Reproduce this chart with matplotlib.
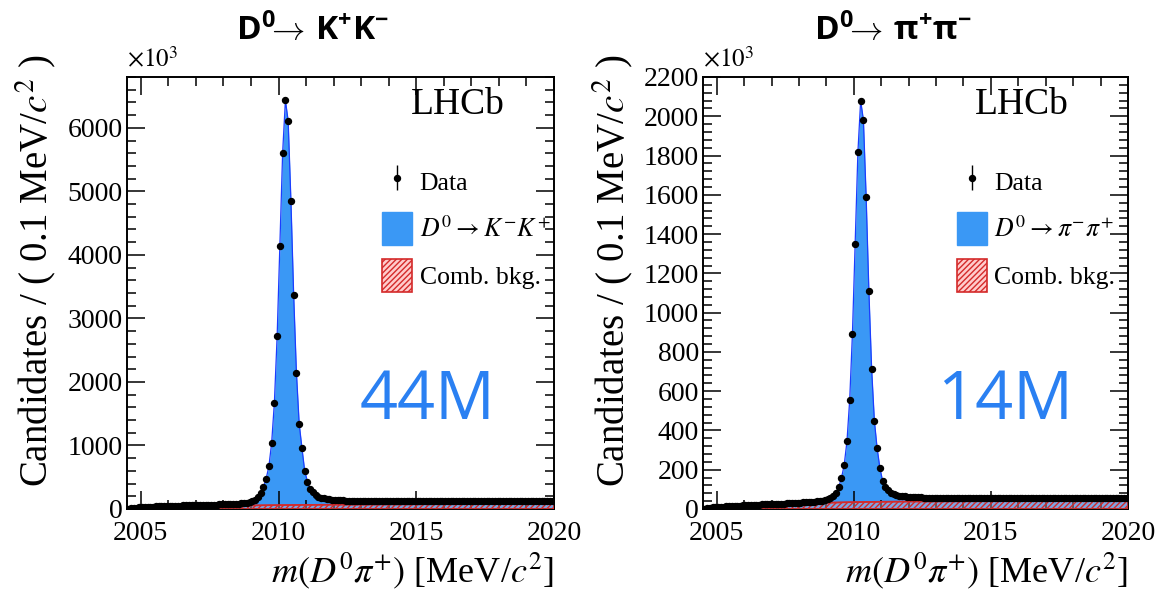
import numpy as np
import matplotlib
matplotlib.use("Agg")
import matplotlib.pyplot as plt
from matplotlib.patches import Patch
from matplotlib.ticker import MultipleLocator

plt.rcParams['font.family'] = ['Liberation Serif', 'DejaVu Serif']
plt.rcParams['mathtext.fontset'] = 'stix'
plt.rcParams['mathtext.rm'] = 'Open Sans'
plt.rcParams['mathtext.bf'] = 'Open Sans:bold'
plt.rcParams['mathtext.it'] = 'Open Sans:italic'
plt.rcParams['hatch.linewidth'] = 1.0

# ---- binning: 0.1 MeV/c^2 bins over the m(D0 pi+) window ----
mass_lo, mass_hi, bin_width = 2004.5, 2020.0, 0.1
mass = np.arange(mass_lo + bin_width / 2, mass_hi, bin_width)

# ---- D0 -> K+K- candidates per bin (x10^3) ----
kk_counts = [
    5, 12, 18, 23, 27, 30, 33, 35, 37, 39,
    41, 43, 45, 46, 48, 49, 51, 52, 53, 55,
    56, 57, 58, 60, 61, 62, 63, 65, 66, 67,
    68, 69, 70, 71, 73, 74, 76, 78, 80, 83,
    86, 90, 94, 100, 108, 122, 145, 185, 250, 342,
    475, 669, 1036, 1673, 2719, 4144, 5610, 6431, 6110, 4853,
    3366, 2147, 1342, 960, 600, 430, 320, 260, 220, 195,
    178, 166, 157, 150, 145, 141, 138, 136, 134, 133,
    132, 131, 131, 130, 130, 130, 130, 129, 129, 129,
    129, 129, 129, 129, 129, 128, 128, 128, 128, 128,
    128, 128, 128, 128, 128, 128, 128, 128, 128, 128,
    128, 128, 128, 128, 128, 128, 128, 128, 128, 128,
    128, 128, 128, 128, 127, 127, 127, 127, 127, 127,
    127, 127, 127, 127, 127, 127, 127, 127, 127, 127,
    127, 127, 127, 127, 127, 127, 127, 127, 127, 127,
    127, 127, 127, 127, 127,
]

# ---- D0 -> pi+pi- candidates per bin (x10^3) ----
pipi_counts = [
    2, 4, 6, 8, 9, 10, 11, 12, 13, 14,
    15, 16, 17, 17, 18, 19, 20, 20, 21, 22,
    22, 23, 24, 24, 25, 26, 26, 27, 28, 28,
    29, 30, 30, 31, 32, 33, 34, 35, 36, 37,
    38, 39, 41, 43, 46, 50, 56, 66, 84, 112,
    157, 225, 344, 555, 892, 1351, 1819, 2079, 1981, 1589,
    1109, 713, 449, 310, 210, 143, 112, 95, 84, 77,
    72, 68, 66, 64, 62, 61, 60, 60, 59, 59,
    58, 58, 58, 58, 58, 58, 58, 58, 58, 58,
    58, 58, 58, 58, 58, 57, 57, 57, 57, 57,
    57, 57, 57, 57, 57, 57, 57, 57, 57, 57,
    57, 57, 57, 57, 57, 57, 57, 57, 57, 57,
    57, 57, 57, 57, 57, 57, 57, 57, 57, 57,
    57, 57, 57, 57, 57, 57, 57, 57, 57, 57,
    57, 57, 57, 57, 57, 57, 57, 57, 57, 57,
    57, 57, 57, 57, 57,
]

# ---- combinatorial background shapes (x10^3) ----
comb_mass = [2004.5, 2004.75, 2005.0, 2005.5, 2006.0, 2007.0, 2008.0, 2009.0,
             2010.0, 2011.0, 2012.0, 2014.0, 2016.0, 2018.0, 2020.0]
kk_comb = [0, 10, 16, 25, 32, 42, 50, 56, 61, 65, 68, 72, 75, 78, 80]
pipi_comb = [0, 6, 9, 13, 17, 23, 28, 32, 35, 37, 38, 39, 40, 41, 41]

# ---- labels ----
titles = [r'$\mathbf{D^0}\!\!\rightarrow\!\mathbf{\ K^{+}K^{-}}$',
          r'$\mathbf{D^0}\!\!\rightarrow\!\mathbf{\ \pi^{+}\pi^{-}}$']
signal_labels = [r'$D^0 \rightarrow K^{-}K^{+}$', r'$D^0 \rightarrow \pi^{-}\pi^{+}$']
yields = ['44M', '14M']
y_max = [6800, 2200]
y_major = [1000, 200]
y_minor = [200, 40]
x_ticks = [2005, 2010, 2015, 2020]

SIG_BLUE = '#3a98f5'
LINE_BLUE = '#1b3dff'
COMB_RED = '#d42a2a'
YIELD_BLUE = '#2a80f2'

fig = plt.figure(figsize=(11.65, 5.90), dpi=100)
fig.patch.set_facecolor('white')

W, H = 1165.0, 590.0
axes_px = [(127, 77, 554, 509), (703, 77, 1128, 509)]
title_px = [(312, 29), (893, 29)]
ylabel_px = [36, 613]
lhcb_x = [0.775, 0.75]

panels = [(kk_counts, kk_comb), (pipi_counts, pipi_comb)]

for i, (counts, comb) in enumerate(panels):
    x0, y0, x1, y1 = axes_px[i]
    ax = fig.add_axes([x0 / W, 1 - y1 / H, (x1 - x0) / W, (y1 - y0) / H])
    counts = np.asarray(counts, dtype=float)

    # signal + background fit components
    ax.fill_between(mass, 0, counts, color=SIG_BLUE, lw=0, zorder=1)
    ax.plot(mass, counts, color=LINE_BLUE, lw=0.9, zorder=2)
    ax.fill_between(comb_mass, 0, comb, facecolor=(1.0, 0.75, 0.75, 0.35),
                    edgecolor=COMB_RED, hatch='//////', lw=1.0, zorder=3)
    ax.plot(comb_mass, comb, color=COMB_RED, lw=1.2, zorder=3)

    # data points with Poisson uncertainties
    err = np.sqrt(counts * 1e3) / 1e3
    data = ax.errorbar(mass, counts, yerr=err, fmt='o', color='black', ms=4.3,
                       elinewidth=1.0, capsize=0, zorder=5)

    ax.set_xlim(mass_lo, mass_hi)
    ax.set_ylim(0, y_max[i])
    ax.set_xticks(x_ticks)
    ax.xaxis.set_minor_locator(MultipleLocator(1))
    ax.yaxis.set_major_locator(MultipleLocator(y_major[i]))
    ax.yaxis.set_minor_locator(MultipleLocator(y_minor[i]))
    ax.tick_params(which='both', direction='in', top=True, right=True,
                   width=1.1, labelsize=20, color='black')
    ax.tick_params(which='major', length=13)
    ax.tick_params(which='minor', length=6.5)
    ax.tick_params(axis='x', which='major', pad=9)
    ax.tick_params(axis='y', which='major', pad=3)
    for sp in ax.spines.values():
        sp.set_linewidth(1.4)

    ax.text(0.0, 1.01, r'$\times10^{3}$', transform=ax.transAxes,
            fontsize=18, ha='left', va='bottom', math_fontfamily='stix')
    ax.text(lhcb_x[i], 0.935, 'LHCb', transform=ax.transAxes,
            fontsize=27, ha='center', va='center')

    handles = [data,
               Patch(facecolor=SIG_BLUE, edgecolor=SIG_BLUE),
               Patch(facecolor=(1.0, 0.8, 0.8), edgecolor=COMB_RED, hatch='//////', lw=1.2)]
    labels = ['Data', signal_labels[i], 'Comb. bkg.']
    leg = ax.legend(handles, labels, loc='upper left', bbox_to_anchor=(0.598, 0.796),
                    frameon=False, fontsize=18.5, handlelength=1.15, handleheight=1.6,
                    labelspacing=0.55, handletextpad=0.3, borderpad=0, borderaxespad=0)
    for t in leg.get_texts():
        t.set_math_fontfamily('stix')

    ax.text(0.705 if i == 0 else 0.71, 0.25, yields[i], transform=ax.transAxes,
            fontsize=48, color=YIELD_BLUE, ha='center', va='center',
            family=['Open Sans', 'DejaVu Sans'])

    # axis titles in the right-/top-aligned style
    fig.text(x1 / W, 1 - 571 / H, r'$m(D^{0}\pi^{+})$ [MeV/$c^{2}$]', fontsize=26,
             ha='right', va='center', math_fontfamily='stix')
    fig.text(ylabel_px[i] / W, 1 - 54 / H, r'Candidates / ( 0.1 MeV/$c^{2}$ )',
             fontsize=28, rotation=90, ha='center', va='top', math_fontfamily='stix')

    tx, ty = title_px[i]
    fig.text(tx / W, 1 - ty / H, titles[i], fontsize=24, ha='center', va='center',
             math_fontfamily='custom')

fig.savefig('out.png', dpi=100, facecolor='white')
